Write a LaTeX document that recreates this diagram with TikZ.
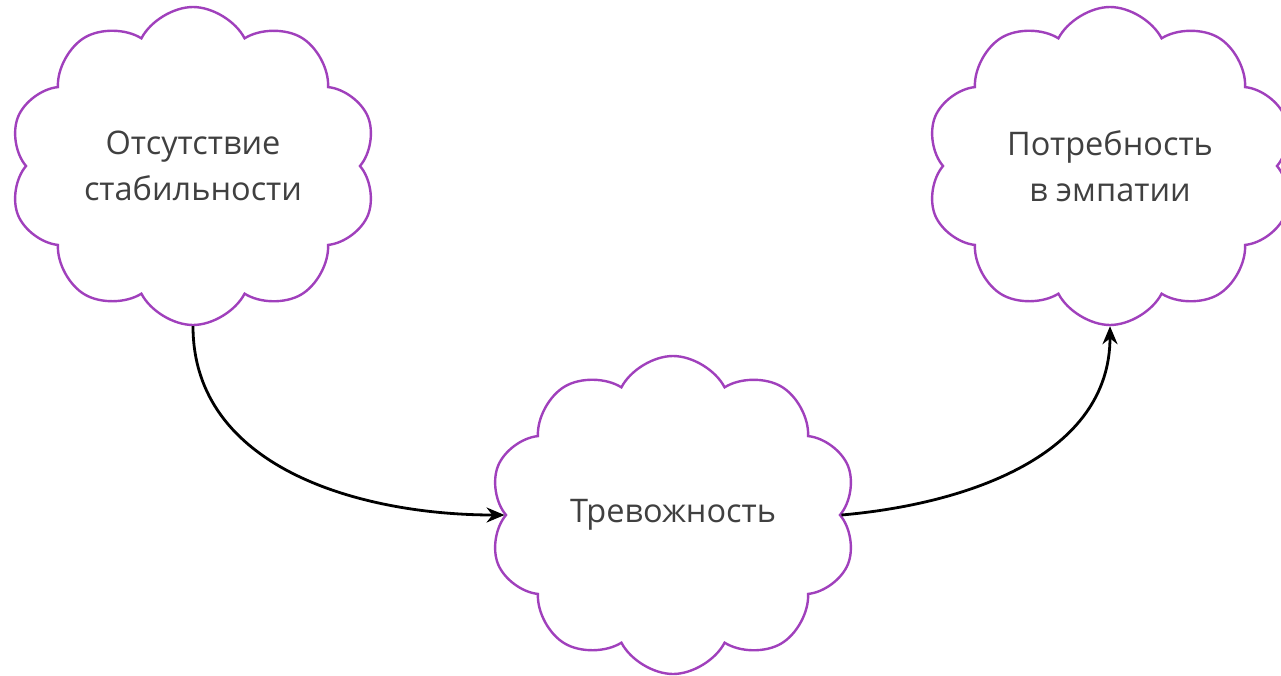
\documentclass[tikz,border=0pt]{standalone}
\usepackage{fontspec}
\setmainfont{Open Sans}
\definecolor{cloudPurple}{RGB}{160,64,188}
\definecolor{textGray}{RGB}{64,64,64}
\usetikzlibrary{shapes.symbols,arrows.meta}

\begin{document}
\begin{tikzpicture}[
    x=1pt, y=-1pt,
    idea/.style={cloud, cloud puffs=10, cloud puff arc=125, cloud ignores aspect, draw=cloudPurple, line width=2.4pt, fill=white, minimum width=368pt, minimum height=318pt, align=center, text=textGray, font=\fontsize{32.5}{46}\selectfont},
    arrow/.style={-{Stealth[length=18pt,width=15pt]}, line width=2.8pt, black}
]
\useasboundingbox (0,0) rectangle (1281,675);
\node[idea] (instab) at (193,166) {Отсутствие\\стабильности};
\node[idea] (anxiety) at (673,515) {Тревожность};
\node[idea] (empathy) at (1110,166) {Потребность\\в эмпатии};
\draw[arrow] (instab.south) to[out=-90, in=180] (anxiety.west);
\draw[arrow] (anxiety.east) to[out=5, in=-90] (empathy.south);
\end{tikzpicture}
\end{document}
